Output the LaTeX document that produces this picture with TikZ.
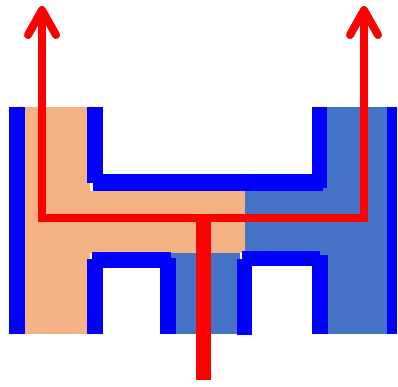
\documentclass[tikz,border=0pt]{standalone}
\begin{document}
\begin{tikzpicture}[x=0.25mm,y=-0.25mm,
  px/.style={line width=#1*0.25mm},
  coreA/.style={fill={rgb,255:red,244;green,177;blue,131}},
  coreB/.style={fill={rgb,255:red,68;green,114;blue,196}},
  wind/.style={fill={rgb,255:red,0;green,0;blue,255}},
  flux/.style={draw={rgb,255:red,255;green,0;blue,0}, px=8, line join=miter},
  fluxmain/.style={draw={rgb,255:red,255;green,0;blue,0}, px=15},
  head/.style={draw={rgb,255:red,255;green,0;blue,0}, px=8, line cap=round, line join=round}]
\useasboundingbox (0,0) rectangle (398,386);

% core, left half
\path[coreA] (25,107) rectangle (90,334);
\path[coreA] (25,191) rectangle (245,253);
% core, right half
\path[coreB] (320,107) rectangle (387,334);
\path[coreB] (245,191) rectangle (387,253);
\path[coreB] (168,253) rectangle (240,334);

% outer windings
\path[wind] (9,107) rectangle (25,334);
\path[wind] (387,107) rectangle (397,334);
% upper window
\path[wind] (87,107) rectangle (103,183);
\path[wind] (93,174) rectangle (323,191);
\path[wind] (312,107) rectangle (327,188);
% lower left window
\path[wind] (87,259) rectangle (103,334);
\path[wind] (92,252) rectangle (171,268);
\path[wind] (160,258) rectangle (176,334);
% lower right window
\path[wind] (237,259) rectangle (252,335);
\path[wind] (242,251) rectangle (320,266);
\path[wind] (312,255) rectangle (328,334);

% flux paths
\coordinate (tl) at (42,10);
\coordinate (bl) at (42,218);
\coordinate (br) at (364,218);
\coordinate (tr) at (364,10);
\coordinate (jn) at (203.5,214);
\coordinate (src) at (203.5,380);
\draw[flux] (tl) -- (bl) -- (br) -- (tr);
\draw[fluxmain] (src) -- (jn);
\draw[head] ([xshift=-14*0.25mm,yshift=-25*0.25mm]tl) -- (tl) -- ([xshift=14*0.25mm,yshift=-25*0.25mm]tl);
\draw[head] ([xshift=-14*0.25mm,yshift=-25*0.25mm]tr) -- (tr) -- ([xshift=14*0.25mm,yshift=-25*0.25mm]tr);
\end{tikzpicture}
\end{document}
